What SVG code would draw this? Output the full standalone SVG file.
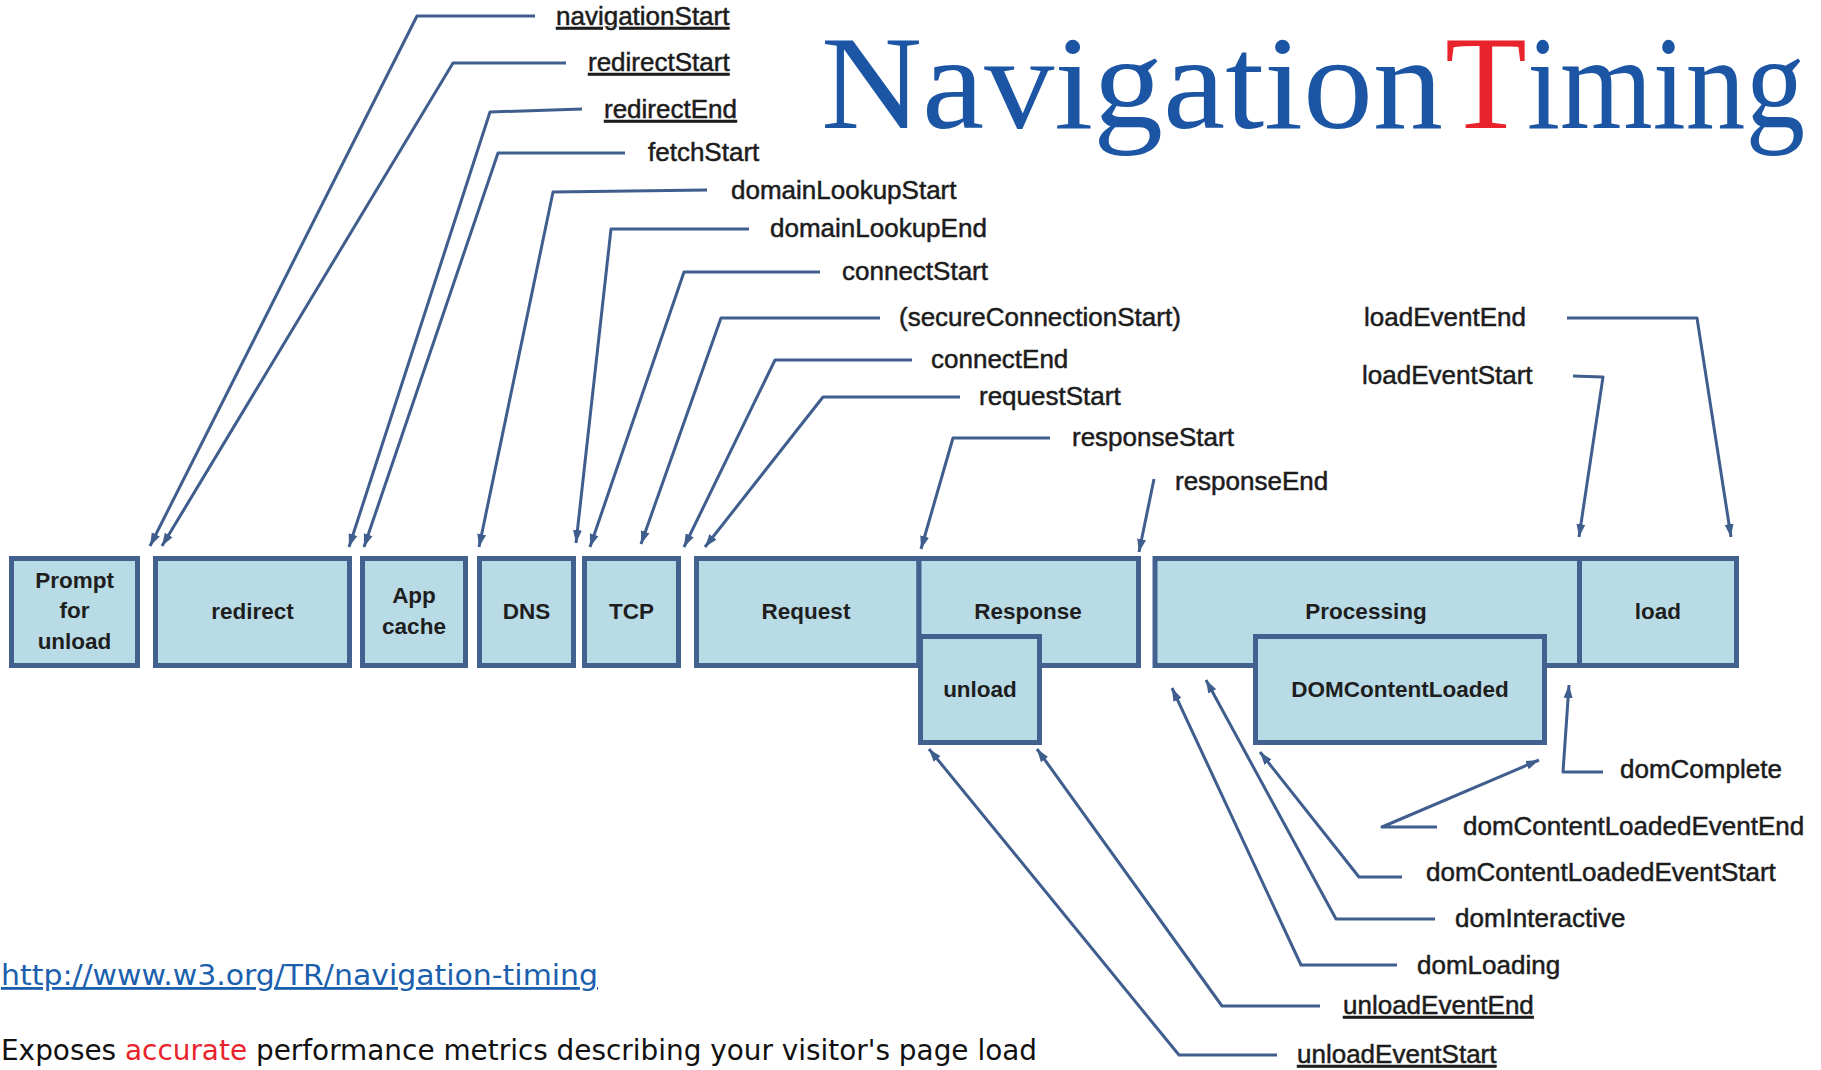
<svg xmlns="http://www.w3.org/2000/svg" width="1821" height="1070" viewBox="0 0 1821 1070">
<style>
.box{fill:#b9dbe6;stroke:#43618f;stroke-width:5}
.bl{font-family:"Liberation Sans",Arial,sans-serif;font-size:22.5px;font-weight:bold;fill:#1e1e1e;text-anchor:middle}
.lb{font-family:"Liberation Sans",Arial,sans-serif;font-size:26px;fill:#1c1c1c;stroke:#1c1c1c;stroke-width:0.5}
.u{text-decoration:underline}
.cn{fill:none;stroke:#3f5e8e;stroke-width:3;stroke-linejoin:round;marker-end:url(#ah)}
.title{font-family:"Liberation Serif","Times New Roman",serif;font-size:134px;fill:#1b55a4}
.foot{font-family:"DejaVu Sans",Verdana,sans-serif;font-size:28px}
</style>
<defs>
<marker id="ah" markerUnits="userSpaceOnUse" markerWidth="15" markerHeight="10" refX="13" refY="5" orient="auto">
<path d="M0,0.5 L13,5 L0,9.5 Z" fill="#3f5e8e"/>
</marker>
</defs>
<rect width="1821" height="1070" fill="#ffffff"/>

<g id="title">
<text class="title" y="128"><tspan x="821" textLength="622" lengthAdjust="spacingAndGlyphs">Navigation</tspan><tspan x="1445" fill="#e8232b">T</tspan><tspan x="1527" textLength="278" lengthAdjust="spacingAndGlyphs">iming</tspan></text>
</g>

<g id="connectors">
<path class="cn" d="M535,16 L417,16 L150,546"/>
<path class="cn" d="M566,63 L453,63 L162,546"/>
<path class="cn" d="M582,109 L490,112 L349,547"/>
<path class="cn" d="M625,153 L498,153 L364,547"/>
<path class="cn" d="M707,190 L553,192 L479,547"/>
<path class="cn" d="M749,229 L611,229 L576,543"/>
<path class="cn" d="M820,272 L684,272 L590,547"/>
<path class="cn" d="M880,318 L721,318 L641,544"/>
<path class="cn" d="M912,360 L775,360 L684,547"/>
<path class="cn" d="M960,397 L823,397 L705,547"/>
<path class="cn" d="M1050,438 L953,438 L921,549"/>
<path class="cn" d="M1154,479 L1139,552"/>
<path class="cn" d="M1567,318 L1697,318 L1731,537"/>
<path class="cn" d="M1573,376 L1603,377 L1579,537"/>
<path class="cn" d="M1277,1055 L1179,1055 L929,749"/>
<path class="cn" d="M1320,1006 L1222,1006 L1037,749"/>
<path class="cn" d="M1397,965 L1301,965 L1172,688"/>
<path class="cn" d="M1435,919 L1336,919 L1206,680"/>
<path class="cn" d="M1402,877 L1359,877 L1260,752"/>
<path class="cn" d="M1437,827 L1382,827 L1539,760"/>
<path class="cn" d="M1603,772 L1563,772 L1569,685"/>
</g>

<g id="prompt-for-unload">
<rect class="box" x="11.5" y="558.5" width="126" height="107"/>
<text class="bl" x="74.5" y="588">Prompt</text>
<text class="bl" x="74.5" y="618">for</text>
<text class="bl" x="74.5" y="649">unload</text>
</g>
<g id="redirect">
<rect class="box" x="155.5" y="558.5" width="194" height="107"/>
<text class="bl" x="252.5" y="619">redirect</text>
</g>
<g id="app-cache">
<rect class="box" x="362.5" y="558.5" width="103" height="107"/>
<text class="bl" x="414" y="603">App</text>
<text class="bl" x="414" y="634">cache</text>
</g>
<g id="dns">
<rect class="box" x="479.5" y="558.5" width="94" height="107"/>
<text class="bl" x="526.5" y="619">DNS</text>
</g>
<g id="tcp">
<rect class="box" x="584.5" y="558.5" width="94" height="107"/>
<text class="bl" x="631.5" y="619">TCP</text>
</g>
<g id="request">
<rect class="box" x="696.5" y="558.5" width="222.5" height="107"/>
<text class="bl" x="806" y="619">Request</text>
</g>
<g id="response">
<rect class="box" x="919" y="558.5" width="219.5" height="107"/>
<text class="bl" x="1028" y="619">Response</text>
</g>
<g id="processing">
<rect class="box" x="1155" y="558.5" width="424.5" height="107"/>
<text class="bl" x="1366" y="619">Processing</text>
</g>
<g id="load">
<rect class="box" x="1579.5" y="558.5" width="157" height="107"/>
<text class="bl" x="1658" y="619">load</text>
</g>
<g id="unload">
<rect class="box" x="920.5" y="636.5" width="119" height="106"/>
<text class="bl" x="980" y="697">unload</text>
</g>
<g id="domcontentloaded">
<rect class="box" x="1255.5" y="636.5" width="289" height="106"/>
<text class="bl" x="1400" y="697">DOMContentLoaded</text>
</g>

<g id="labels">
<text id="l-navigationStart" class="lb u" x="556" y="25">navigationStart</text>
<text id="l-redirectStart" class="lb u" x="588" y="71">redirectStart</text>
<text id="l-redirectEnd" class="lb u" x="604" y="118">redirectEnd</text>
<text id="l-fetchStart" class="lb" x="648" y="161">fetchStart</text>
<text id="l-domainLookupStart" class="lb" x="731" y="199">domainLookupStart</text>
<text id="l-domainLookupEnd" class="lb" x="770" y="237">domainLookupEnd</text>
<text id="l-connectStart" class="lb" x="842" y="280">connectStart</text>
<text id="l-secureConnectionStart" class="lb" x="899" y="326">(secureConnectionStart)</text>
<text id="l-connectEnd" class="lb" x="931" y="368">connectEnd</text>
<text id="l-requestStart" class="lb" x="979" y="405">requestStart</text>
<text id="l-responseStart" class="lb" x="1072" y="446">responseStart</text>
<text id="l-responseEnd" class="lb" x="1175" y="490">responseEnd</text>
<text id="l-loadEventEnd" class="lb" x="1364" y="326">loadEventEnd</text>
<text id="l-loadEventStart" class="lb" x="1362" y="384">loadEventStart</text>
<text id="l-domComplete" class="lb" x="1620" y="778">domComplete</text>
<text id="l-domContentLoadedEventEnd" class="lb" x="1463" y="835">domContentLoadedEventEnd</text>
<text id="l-domContentLoadedEventStart" class="lb" x="1426" y="881">domContentLoadedEventStart</text>
<text id="l-domInteractive" class="lb" x="1455" y="927">domInteractive</text>
<text id="l-domLoading" class="lb" x="1417" y="974">domLoading</text>
<text id="l-unloadEventEnd" class="lb u" x="1343" y="1014">unloadEventEnd</text>
<text id="l-unloadEventStart" class="lb u" x="1297" y="1063">unloadEventStart</text>
</g>

<g id="footer">
<text class="foot u" x="1" y="985" fill="#1b5fad" textLength="597" lengthAdjust="spacingAndGlyphs">http://www.w3.org/TR/navigation-timing</text>
<text class="foot" x="1" y="1060" fill="#111111" textLength="1036" lengthAdjust="spacingAndGlyphs">Exposes <tspan fill="#e8232b">accurate</tspan> performance metrics describing your visitor's page load</text>
</g>
</svg>
